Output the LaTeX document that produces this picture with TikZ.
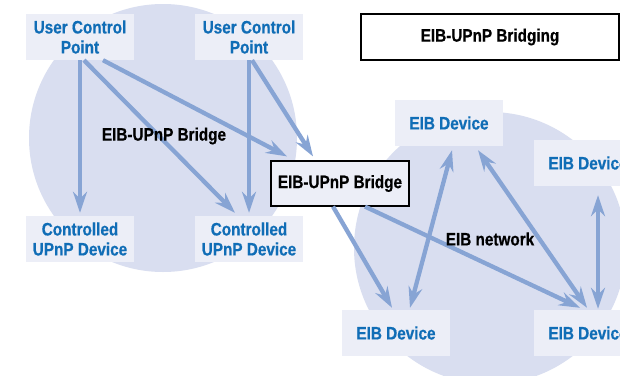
\documentclass[tikz,border=0pt]{standalone}
\usepackage{fontspec}
\setmainfont{Liberation Sans}[FakeStretch=0.85, BoldFeatures={FakeBold=0.6}]
\usetikzlibrary{arrows.meta}
\definecolor{blobfill}{HTML}{D9DEF0}
\definecolor{boxfill}{HTML}{ECEEF7}
\definecolor{arrowc}{HTML}{87A4D4}
\definecolor{devtext}{HTML}{106DB6}
\tikzset{
  bigfont/.style={font=\fontsize{18}{20}\selectfont\bfseries},
  dev/.style={bigfont, fill=boxfill, minimum width=108pt, minimum height=46pt,
    inner sep=0pt, align=center, text=devtext},
  lbl/.style={bigfont, text=black, inner sep=0pt},
  framed/.style={bigfont, draw=black, line width=1.2pt, inner sep=0pt, text=black},
  tip/.tip={Stealth[length=21pt, width=14pt, inset=7pt]},
  linkarrow/.style={draw=arrowc, line width=4.3pt, -tip},
  twoway/.style={draw=arrowc, line width=4.3pt, tip-tip}
}
\begin{document}
\begin{tikzpicture}[x=1pt, y=-1pt]
  \clip (0,0) rectangle (620,375);
  \fill[white] (0,0) rectangle (620,375);

  % the two network areas
  \fill[blobfill] (163,138) circle[radius=134pt];
  \fill[blobfill] (490,248) circle[radius=136pt];

  % UPnP side
  \node[dev] (ucp1) at (80,37) {User Control\\Point};
  \node[dev] (ucp2) at (249,37) {User Control\\Point};
  \node[dev] (cud1) at (80,239) {Controlled\\UPnP Device};
  \node[dev] (cud2) at (249,239) {Controlled\\UPnP Device};

  % the bridge and the caption
  \node[framed, fill=boxfill, minimum width=138pt, minimum height=45pt] (bridge) at (340,183.5) {EIB-UPnP Bridge};
  \node[framed, fill=white, minimum width=258pt, minimum height=46pt] (title) at (490,37) {EIB-UPnP Bridging};

  % EIB side
  \node[dev] (eibt) at (449,123) {EIB Device};
  \node[dev] (eibr) at (588,163) {EIB Device};
  \node[dev] (eibbl) at (396,333) {EIB Device};
  \node[dev] (eibbr) at (588,333) {EIB Device};

  % UPnP links
  \draw[linkarrow] (ucp1.south) -- ([yshift=3pt]cud1.north);
  \draw[linkarrow] ([xshift=4pt]ucp1.south) -- ([xshift=-14pt,yshift=3pt]cud2.north);
  \draw[linkarrow] ([xshift=23pt]ucp1.south) -- ([xshift=-53pt,yshift=4pt]bridge.north);
  \draw[linkarrow] (ucp2.south) -- ([yshift=3pt]cud2.north);
  \draw[linkarrow] ([xshift=3pt]ucp2.south) -- ([xshift=-27pt,yshift=4pt]bridge.north);

  % EIB links
  \draw[linkarrow] ([xshift=-7pt]bridge.south) -- ([xshift=-4pt,yshift=2pt]eibbl.north);
  \draw[linkarrow] ([xshift=25pt]bridge.south) -- ([xshift=-8pt,yshift=2pt]eibbr.north);
  \draw[twoway] ([xshift=14pt,yshift=2pt]eibbl.north) -- ([xshift=3pt,yshift=-4pt]eibt.south);
  \draw[twoway] ([xshift=29pt,yshift=-4pt]eibt.south) -- ([xshift=-1pt,yshift=2pt]eibbr.north);
  \draw[twoway] ([xshift=10pt,yshift=-9pt]eibr.south) -- ([xshift=10pt,yshift=1pt]eibbr.north);

  % area captions
  \node[lbl] (upnplabel) at (164,136) {EIB-UPnP Bridge};
  \node[lbl] (eiblabel) at (490,239) {EIB network};
\end{tikzpicture}
\end{document}
